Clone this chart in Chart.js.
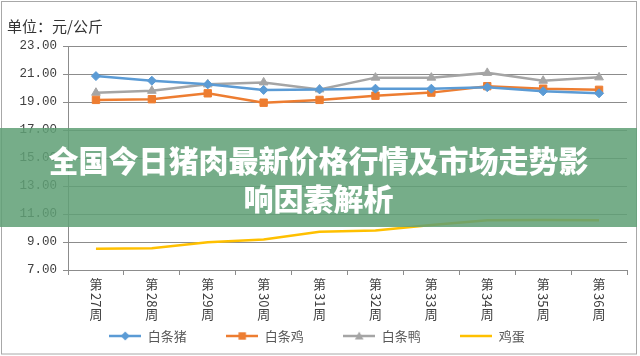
<!DOCTYPE html>
<html><head><meta charset="utf-8">
<script src="https://cdn.jsdelivr.net/npm/chart.js@4"></script>
<style>
html,body{margin:0;padding:0;background:#fff;}
#wrap{position:relative;width:640px;height:356px;}
#banner{position:absolute;left:0;top:128px;width:637px;height:99px;background:rgba(96,160,118,0.86);display:flex;flex-direction:column;justify-content:center;align-items:center;color:#fff;font-family:"Noto Sans CJK SC";font-weight:900;font-size:30px;line-height:38px;text-align:center;}
</style></head>
<body><div id="wrap"><canvas id="c" width="640" height="356"></canvas><div id="banner"><div>全国今日猪肉最新价格行情及市场走势影</div><div>响因素解析</div></div></div>
<script>
const weeks = ['第27周','第28周','第29周','第30周','第31周','第32周','第33周','第34周','第35周','第36周'];
const seriesNames = ['白条猪','白条鸡','白条鸭','鸡蛋'];
const pork    = [20.85,20.52,20.26,19.86,19.90,19.95,19.95,20.06,19.76,19.62];
const chicken = [19.15,19.20,19.62,18.95,19.15,19.45,19.67,20.13,19.95,19.87];
const duck    = [19.66,19.80,20.26,20.40,19.90,20.74,20.74,21.08,20.52,20.76];
const egg     = [8.52,8.55,8.98,9.18,9.74,9.82,10.22,10.56,10.58,10.56];
const yTicks  = [7,9,11,13,15,17,19,21,23];

const colors = ['#5b9bd5','#ed7d31','#a5a5a5','#ffc000'];
const styles = ['rectRot','rect','triangle',false];
const radii = [4.5,5.2,5,0];

function legendImg(color, style){
  const c = document.createElement('canvas'); c.width = 32; c.height = 12;
  const g = c.getContext('2d');
  g.strokeStyle = color; g.lineWidth = 2.5;
  g.beginPath(); g.moveTo(0,6); g.lineTo(32,6); g.stroke();
  g.fillStyle = color;
  if (style === 'rectRot'){ g.beginPath(); g.moveTo(16,1.5); g.lineTo(20.5,6); g.lineTo(16,10.5); g.lineTo(11.5,6); g.closePath(); g.fill(); }
  else if (style === 'rect'){ g.fillRect(12.3,2.3,7.4,7.4); }
  else if (style === 'triangle'){ g.beginPath(); g.moveTo(16,1.5); g.lineTo(20.3,9.5); g.lineTo(11.7,9.5); g.closePath(); g.fill(); }
  return c;
}

const dataArrays = [pork, chicken, duck, egg];
const datasets = dataArrays.map((d,i)=>({
  label: seriesNames[i], data: d,
  borderColor: colors[i], backgroundColor: colors[i],
  borderWidth: 2.5, tension: 0,
  pointStyle: styles[i] || 'circle', pointRadius: radii[i], pointHoverRadius: radii[i],
  pointBorderWidth: 1, pointBackgroundColor: colors[i], pointBorderColor: colors[i]
}));

const decor = {
  id: 'decor',
  beforeDraw(chart){
    const ctx = chart.ctx; ctx.save(); ctx.fillStyle = '#fff'; ctx.fillRect(0,0,chart.width,chart.height); ctx.restore();
  },
  afterDraw(chart){
    const ctx = chart.ctx, xs = chart.scales.x;
    ctx.save();
    ctx.fillStyle = '#404040';
    ctx.font = '13px "Noto Sans CJK SC"';
    weeks.forEach((w,i)=>{
      const x = xs.getPixelForValue(i);
      let y = xs.top + 9;
      const parts = w.match(/\d+|[^\d]/g);
      parts.forEach(p=>{
        if (/\d/.test(p)){
          const wd = ctx.measureText(p).width;
          ctx.save(); ctx.translate(x, y); ctx.rotate(Math.PI/2);
          ctx.textAlign='left'; ctx.textBaseline='middle';
          ctx.fillText(p, 0, 0); ctx.restore();
          y += wd + 1;
        } else {
          ctx.textAlign='center'; ctx.textBaseline='top';
          ctx.fillText(p, x, y - 1); y += 14;
        }
      });
    });
    ctx.strokeStyle = '#a8a8a8'; ctx.lineWidth = 1;
    ctx.strokeRect(1.5,1.5,635,352.5);
    ctx.restore();
  }
};

new Chart(document.getElementById('c'), {
  type: 'line',
  data: { labels: weeks, datasets },
  plugins: [decor],
  options: {
    responsive: false, animation: false,
    layout: { padding: { left: 7, right: 13, top: 10, bottom: 3.5 } },
    plugins: {
      title: { display: true, text: '单位：元/公斤', align: 'start', color: '#333',
        font: { family: '"Noto Sans CJK SC"', size: 15, weight: 'normal' }, padding: { top: 7, bottom: 11 } },
      legend: { position: 'bottom',
        labels: { color: '#595959', font: { family: '"Noto Sans CJK SC"', size: 13 }, padding: 39.5,
          usePointStyle: true, pointStyleWidth: 32,
          generateLabels(chart){
            return chart.data.datasets.map((ds,i)=>({ text: ds.label, pointStyle: legendImg(colors[i], styles[i]),
              fillStyle: colors[i], strokeStyle: colors[i], lineWidth: 0, hidden: false, datasetIndex: i, fontColor: '#595959' }));
          } } },
      tooltip: { enabled: false }
    },
    scales: {
      x: { type: 'category', offset: true,
        grid: { offset: true, drawOnChartArea: false, drawTicks: true, tickLength: 5, color: '#8c8c8c' },
        border: { display: true, color: '#8c8c8c', width: 1 },
        ticks: { display: false },
        afterFit(s){ s.height = 20; } },
      y: { min: 7, max: 23,
        afterBuildTicks(s){ s.ticks = yTicks.map(v=>({value:v})); },
        grid: { color: '#8c8c8c', tickLength: 5, drawTicks: true },
        border: { display: true, color: '#8c8c8c', width: 1 },
        ticks: { color: '#404040', padding: 6, font: { family: '"Liberation Mono"', size: 12.5 },
          callback: v => v.toFixed(2) },
        afterFit(s){ s.width = 61; } }
    }
  }
});
</script>
</body></html>
